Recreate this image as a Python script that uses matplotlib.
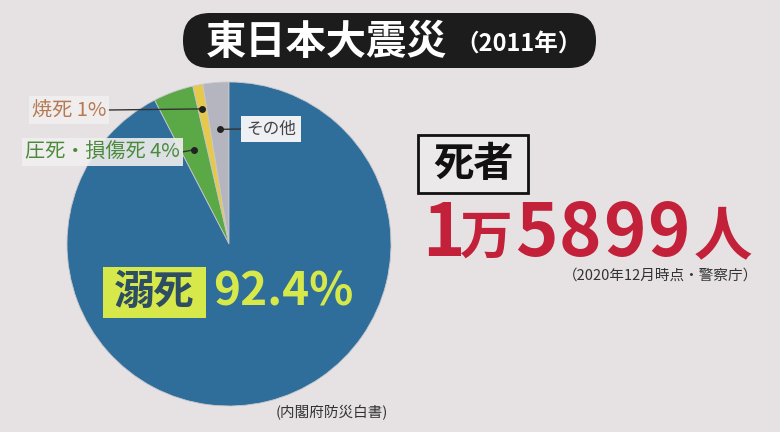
import numpy as np
import matplotlib.pyplot as plt
from matplotlib.patches import FancyBboxPatch, Rectangle

plt.rcParams['font.family'] = ['Noto Sans CJK JP', 'DejaVu Sans']

# データ（内閣府防災白書）
labels = ['その他', '焼死', '圧死・損傷死', '溺死']
shares = [2.6, 1.0, 4.0, 92.4]
colors = ['#b5b5c0', '#e6c94a', '#5ba847', '#2f6e9b']
callout_text = ['その他', '焼死 1%', '圧死・損傷死 4%']
callout_color = ['#444444', '#b57a52', '#4a8a3a']
callout_r = [0.71, 0.85, 0.62]
callout_xy = [(242, 129), (108, 110), (182, 152)]  # ラベルの位置（ピクセル）
deaths_total = '5899'

W, H = 780, 432
bg = '#e6e2e4'

fig = plt.figure(figsize=(7.8, 4.32), dpi=100, facecolor=bg)
ax = fig.add_axes([0, 0, 1, 1])
ax.set_facecolor(bg)

def Y(y):
    return H - y

cx, cy, R = 229, Y(244), 162
wedges, _ = ax.pie(shares, colors=colors, startangle=90, counterclock=True,
                   center=(cx, cy), radius=R,
                   wedgeprops=dict(edgecolor='#c8c8cc', linewidth=0.6))
ax.set_xlim(0, W)
ax.set_ylim(0, H)
ax.set_aspect('equal')
ax.axis('off')

# 吹き出しラベル
for i in range(3):
    w = wedges[i]
    mid = np.deg2rad((w.theta1 + w.theta2) / 2)
    dx = cx + callout_r[i] * R * np.cos(mid)
    dy = cy + callout_r[i] * R * np.sin(mid)
    tx, ty = callout_xy[i]
    ax.plot([dx, tx], [dy, Y(ty)], color='#333333', lw=1)
    ax.plot(dx, dy, 'o', color='#222222', ms=4)
    if i == 0:
        ax.text(tx + 4, Y(ty), callout_text[i], ha='left', va='center',
                fontsize=12, color=callout_color[i],
                bbox=dict(boxstyle='square,pad=0.28', fc='#eef0f4', ec='none'))
    else:
        ax.text(tx - 2, Y(ty), callout_text[i], ha='right', va='center',
                fontsize=14.5, color=callout_color[i],
                bbox=dict(boxstyle='square,pad=0.15', fc='#f1efef', ec='none', alpha=0.9))

# 溺死 92.4%
ax.add_patch(Rectangle((103, Y(318)), 103, 51, fc='#d7e84a', ec='none'))
ax.text(154, Y(292), '溺死', ha='center', va='center', fontsize=29,
        fontweight='bold', color='#2c4d64')
ax.text(213, Y(292), f'{shares[3]}%', ha='left', va='center', fontsize=33,
        fontweight='bold', color='#d7e84a')

# タイトル
ax.add_patch(FancyBboxPatch((183, Y(68)), 413, 55,
                            boxstyle='round,pad=0,rounding_size=27',
                            fc='#1c1c1c', ec='none'))
ax.text(206, Y(42), '東日本大震災', ha='left', va='center', fontsize=29,
        fontweight='bold', color='white')
ax.text(455, Y(44), '（2011年）', ha='left', va='center', fontsize=17,
        fontweight='bold', color='white')

# 死者
ax.add_patch(Rectangle((418, Y(193)), 110, 58, fc='#ece9ea', ec='#111111', lw=2))
ax.text(473, Y(164), '死者', ha='center', va='center', fontsize=29,
        fontweight='bold', color='#111111')

red = '#c3213a'
ax.text(422, Y(235), '1', ha='left', va='center', fontsize=52,
        fontweight='bold', color=red)
ax.text(460, Y(238), '万', ha='left', va='center', fontsize=38,
        fontweight='bold', color=red)
for k, d in enumerate(deaths_total):
    ax.text(536 + 44 * k, Y(235), d, ha='center', va='center', fontsize=52,
            fontweight='bold', color=red)
ax.text(694, Y(237), '人', ha='left', va='center', fontsize=42,
        fontweight='bold', color=red)
ax.text(758, Y(276), '（2020年12月時点・警察庁）', ha='right', va='center',
        fontsize=10.5, color='#333333')

ax.text(332, Y(413), '(内閣府防災白書)', ha='center', va='center',
        fontsize=10.5, color='#333333')

fig.savefig('out.png', dpi=100, facecolor=bg)
